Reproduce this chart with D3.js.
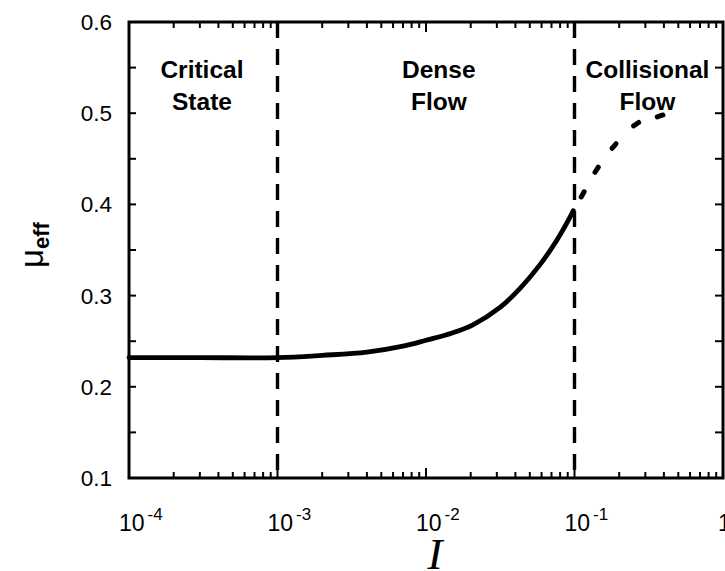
<!DOCTYPE html>
<html><head><meta charset="utf-8">
<script src="https://cdn.jsdelivr.net/npm/d3@7"></script>
<style>body{margin:0;background:#fff}svg{display:block}</style>
</head><body>
<svg id="c" width="725" height="571"></svg>
<script>
// ---- data ----
const curveI  = [0.0001, 0.0003, 0.001, 0.002, 0.004, 0.007, 0.01, 0.015, 0.0207, 0.0315, 0.043, 0.0586, 0.0762, 0.0933, 0.098];
const curveMu = [0.232, 0.232, 0.232, 0.2345, 0.238, 0.2445, 0.251, 0.259, 0.268, 0.287, 0.308, 0.334, 0.361, 0.386, 0.393];
const dotI  = [0.1135, 0.141, 0.1845, 0.26, 0.377];
const dotMu = [0.411, 0.438, 0.464, 0.488, 0.497];
const boundaries = [0.001, 0.1];
const regionNames = [["Critical", "State"], ["Dense", "Flow"], ["Collisional", "Flow"]];
const regionCenters = [0.00031, 0.0122, 0.31];
const xDecades = [-4, -3, -2, -1, 0];
const yTicks = [0.1, 0.2, 0.3, 0.4, 0.5, 0.6];

// ---- layout ----
const svg = d3.select("#c");
const L = 129, R = 723, T = 22, B = 478;
const x = d3.scaleLog().domain([1e-4, 1]).range([L, R]);
const y = d3.scaleLinear().domain([0.1, 0.6]).range([B, T]);

// minor/major x ticks (inward, top and bottom)
const xt = [];
for (let d = -4; d < 0; d++) for (let k = 1; k <= 9; k++) xt.push({v: k * Math.pow(10, d), major: k === 1});
xt.push({v: 1, major: true});
const tg = svg.append("g").attr("stroke", "#000").attr("stroke-width", 2);
xt.forEach(t => {
  const len = t.major ? 10 : 6;
  tg.append("line").attr("x1", x(t.v)).attr("x2", x(t.v)).attr("y1", B).attr("y2", B - len);
  tg.append("line").attr("x1", x(t.v)).attr("x2", x(t.v)).attr("y1", T).attr("y2", T + len);
});
// y ticks every 0.05
d3.range(0.1, 0.6001, 0.05).forEach(v => {
  tg.append("line").attr("x1", L).attr("x2", L + 7).attr("y1", y(v)).attr("y2", y(v));
  tg.append("line").attr("x1", R).attr("x2", R - 8).attr("y1", y(v)).attr("y2", y(v));
});

// frame
svg.append("rect").attr("x", L).attr("y", T).attr("width", R - L).attr("height", B - T)
  .attr("fill", "none").attr("stroke", "#000").attr("stroke-width", 3);

// dashed boundaries
boundaries.forEach(b => {
  svg.append("line").attr("x1", x(b)).attr("x2", x(b)).attr("y1", T).attr("y2", B)
    .attr("stroke", "#000").attr("stroke-width", 3.4).attr("stroke-dasharray", "16,11");
});

// curve
const line = d3.line().x((d, i) => x(curveI[i])).y((d, i) => y(curveMu[i])).curve(d3.curveCatmullRom.alpha(0.5));
svg.append("path").datum(curveI).attr("d", line).attr("fill", "none")
  .attr("stroke", "#000").attr("stroke-width", 4.8).attr("stroke-linecap", "round");

// dotted extension: short dashes along the curve direction
const dp = dotI.map((v, i) => [x(v), y(dotMu[i])]);
dp.forEach((p, i) => {
  const a = dp[Math.max(0, i - 1)], b = dp[Math.min(dp.length - 1, i + 1)];
  const dx = b[0] - a[0], dy = b[1] - a[1], n = Math.hypot(dx, dy);
  const h = 3;
  svg.append("line").attr("x1", p[0] - dx / n * h).attr("y1", p[1] - dy / n * h)
    .attr("x2", p[0] + dx / n * h).attr("y2", p[1] + dy / n * h)
    .attr("stroke", "#000").attr("stroke-width", 5).attr("stroke-linecap", "round");
});

// region labels
regionNames.forEach((lines, i) => {
  const t = svg.append("text").attr("text-anchor", "middle")
    .attr("font-family", "Liberation Sans, Arial, sans-serif").attr("font-weight", "bold")
    .attr("font-size", 24.5).attr("fill", "#000");
  lines.forEach((s, j) => t.append("tspan").attr("x", x(regionCenters[i])).attr("y", 78 + j * 32).text(s));
});

// y tick labels
yTicks.forEach(v => {
  svg.append("text").attr("x", 112).attr("y", y(v) + 8).attr("text-anchor", "end")
    .attr("font-family", "Liberation Sans, Arial, sans-serif").attr("font-size", 22.5).text(v.toFixed(1));
});

// x tick labels
xDecades.forEach(d => {
  const px = x(Math.pow(10, d));
  const t = svg.append("text").attr("font-family", "Liberation Sans, Arial, sans-serif").attr("font-size", 23);
  if (d === 0) {
    t.attr("x", px - 5).attr("y", 531).text("1");
  } else {
    t.attr("x", px - 10).attr("y", 531);
    t.append("tspan").text("10");
    t.append("tspan").attr("dx", 3).attr("dy", -11).attr("font-size", 17).text(String(d));
  }
});

// axis titles
svg.append("text").attr("x", 435).attr("y", 569).attr("text-anchor", "middle")
  .attr("font-family", "Liberation Serif, Times New Roman, serif").attr("font-style", "italic")
  .attr("font-size", 45).text("I");
const yl = svg.append("text").attr("transform", "translate(43,245) rotate(-90)")
  .attr("text-anchor", "middle").attr("font-family", "Liberation Sans, Arial, sans-serif");
yl.append("tspan").attr("font-size", 33).text("μ");
yl.append("tspan").attr("font-size", 22).attr("font-weight", "bold").attr("dy", 6).text("eff");
</script>
</body></html>
